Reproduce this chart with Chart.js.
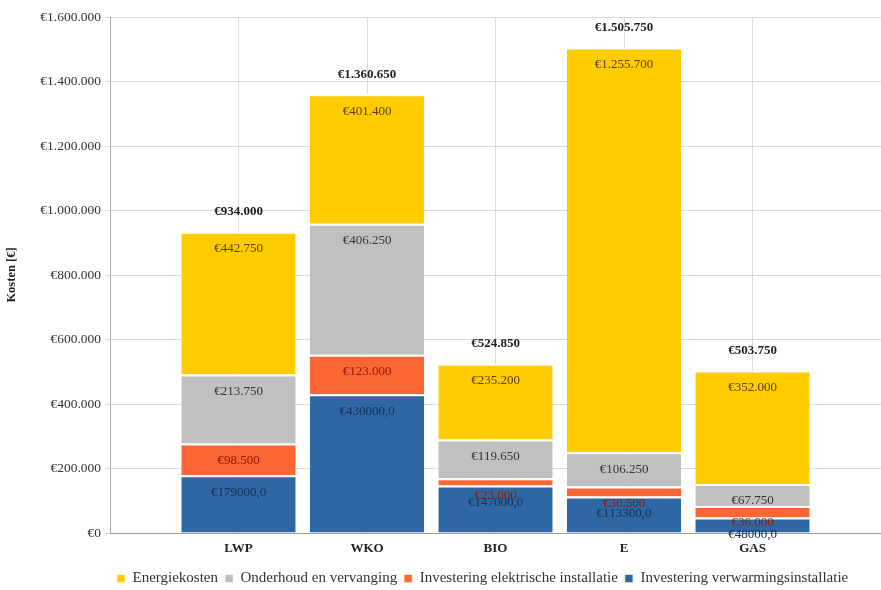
<!DOCTYPE html>
<html>
<head>
<meta charset="utf-8">
<script src="https://cdn.jsdelivr.net/npm/chart.js@4.4.1/dist/chart.umd.min.js"></script>
<style>
  body { margin: 0; background: #fff; }
  #wrap { width: 881px; height: 590px; position: relative; }
</style>
</head>
<body>
<div id="wrap"><canvas id="kostenChart"></canvas></div>
<script>
// Empty slots at both ends keep the bars centred on the vertical grid lines
const categories = ['', 'LWP', 'WKO', 'BIO', 'E', 'GAS', ''];

const verwarming = [null, 179000, 430000, 147000, 113300, 48000, null];
const elektrisch = [null, 98500, 123000, 23000, 30500, 36000, null];
const onderhoud = [null, 213750, 406250, 119650, 106250, 67750, null];
const energie = [null, 442750, 401400, 235200, 1255700, 352000, null];

const FONT = "'Liberation Serif', 'DejaVu Serif', serif";

// 1234567 -> "1.234.567"
function dots(v) {
  return String(Math.round(v)).replace(/\B(?=(\d{3})+(?!\d))/g, '.');
}

const fmtEuro = v => '€' + dots(v);
const fmtRaw = v => '€' + v + ',0';

// Labels inside each segment plus the total above every stack
const segmentLabels = {
  id: 'segmentLabels',
  afterDatasetsDraw(chart) {
    const ctx = chart.ctx;
    ctx.save();
    ctx.textAlign = 'center';
    ctx.textBaseline = 'middle';
    chart.data.datasets.forEach((ds, di) => {
      const meta = chart.getDatasetMeta(di);
      meta.data.forEach((bar, i) => {
        const v = ds.data[i];
        if (v == null) return;
        ctx.font = '13px ' + FONT;
        ctx.fillStyle = ds.labelColor;
        ctx.fillText(ds.fmt(v), bar.x, bar.y + 17);
      });
    });
    // totals
    const top = chart.getDatasetMeta(chart.data.datasets.length - 1);
    top.data.forEach((bar, i) => {
      let sum = 0;
      chart.data.datasets.forEach(ds => { sum += ds.data[i] || 0; });
      if (!sum) return;
      ctx.font = 'bold 13px ' + FONT;
      ctx.fillStyle = '#222';
      ctx.fillText(fmtEuro(sum), bar.x, bar.y - 20);
    });
    ctx.restore();
  }
};

const common = {
  categoryPercentage: 1,
  barPercentage: 0.89,
  borderColor: '#ffffff',
  borderWidth: { top: 2, left: 0, right: 0, bottom: 0 },
  borderSkipped: false
};

new Chart(document.getElementById('kostenChart'), {
  type: 'bar',
  data: {
    labels: categories,
    datasets: [
      { label: 'Investering verwarmingsinstallatie', data: verwarming, backgroundColor: '#2f67a5', labelColor: '#14305a', fmt: fmtRaw, ...common },
      { label: 'Investering elektrische installatie', data: elektrisch, backgroundColor: '#fb6634', labelColor: '#8a1c00', fmt: fmtEuro, ...common },
      { label: 'Onderhoud en vervanging', data: onderhoud, backgroundColor: '#c0c0c0', labelColor: '#333333', fmt: fmtEuro, ...common },
      { label: 'Energiekosten', data: energie, backgroundColor: '#ffcc00', labelColor: '#5a3c00', fmt: fmtEuro, ...common }
    ]
  },
  options: {
    responsive: true,
    maintainAspectRatio: false,
    animation: false,
    layout: { padding: { top: 17, right: 0, bottom: -6, left: 0 } },
    scales: {
      x: {
        stacked: true,
        offset: false,
        grid: { color: '#dcdcdc', drawTicks: false, offset: false },
        border: { color: '#999999' },
        ticks: {
          padding: 8,
          color: '#222',
          font: { family: FONT, size: 13, weight: 'bold' }
        },
        afterFit: s => { s.height = 31; s.paddingLeft = 0; s.paddingRight = 0; }
      },
      y: {
        stacked: true,
        min: 0,
        max: 1600000,
        grid: { color: '#dcdcdc', tickLength: 5 },
        border: { color: '#aaaaaa' },
        ticks: {
          stepSize: 200000,
          padding: 4,
          color: '#333',
          font: { family: FONT, size: 13.5 },
          callback: v => fmtEuro(v)
        },
        title: {
          display: true,
          text: 'Kosten [€]',
          color: '#222',
          font: { family: FONT, size: 12.5, weight: 'bold' }
        },
        afterFit: s => { s.width = 110; }
      }
    },
    plugins: {
      legend: {
        position: 'bottom',
        align: 'start',
        fullSize: false,
        reverse: true,
        labels: {
          boxWidth: 8,
          boxHeight: 8,
          padding: 7,
          color: '#333',
          font: { family: FONT, size: 15 }
        }
      },
      tooltip: { enabled: false }
    }
  },
  plugins: [segmentLabels]
});
</script>
</body>
</html>
